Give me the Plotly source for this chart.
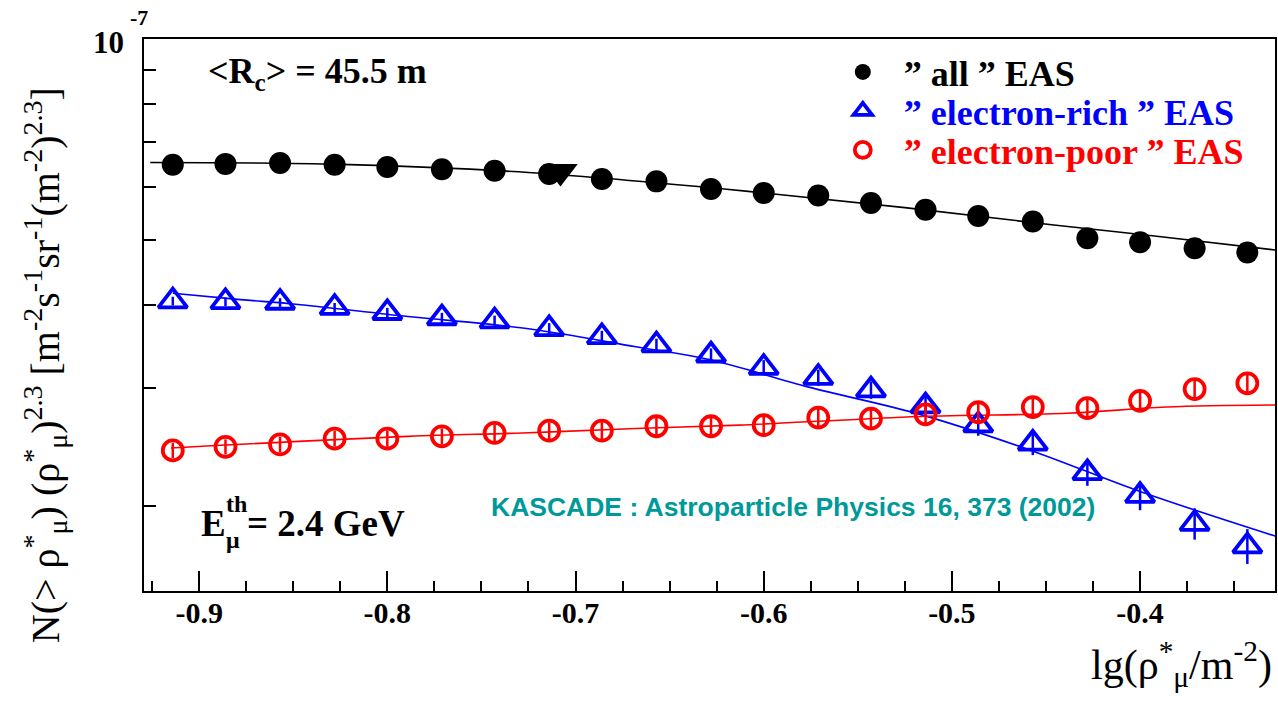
import math
import plotly.graph_objects as go

# ---------------- data (values in units of 1e-8) ----------------
SCALE = 1e-8
x_bins = [-0.914, -0.886, -0.857, -0.828, -0.800, -0.771, -0.743, -0.714, -0.686, -0.657, -0.628,
          -0.600, -0.571, -0.543, -0.514, -0.486, -0.457, -0.428, -0.400, -0.371, -0.343]
all_eas = [6.48, 6.50, 6.52, 6.48, 6.43, 6.38, 6.35, 6.28, 6.17, 6.12, 5.96,
           5.88, 5.83, 5.68, 5.55, 5.43, 5.33, 5.03, 4.96, 4.86, 4.79]
rich_eas = [4.05, 4.04, 4.03, 3.96, 3.89, 3.82, 3.78, 3.68, 3.58, 3.48, 3.36,
            3.22, 3.11, 2.98, 2.82, 2.64, 2.48, 2.24, 2.07, 1.88, 1.74]
rich_err_pct = [1.5, 1.5, 1.5, 1.6, 1.7, 1.8, 1.9, 2.0, 2.1, 2.2, 2.4,
                2.6, 2.8, 3.0, 3.3, 3.6, 4.0, 4.4, 4.9, 5.4, 6.0]
poor_eas = [2.42, 2.45, 2.47, 2.52, 2.52, 2.54, 2.57, 2.59, 2.59, 2.63, 2.63,
            2.64, 2.71, 2.70, 2.74, 2.76, 2.81, 2.80, 2.87, 2.99, 3.05]
poor_err_pct = [2.6, 2.6, 2.7, 2.7, 2.8, 2.8, 2.9, 2.9, 3.0, 3.0, 3.1,
                3.1, 3.2, 3.2, 3.3, 3.3, 3.4, 3.5, 3.6, 3.7, 3.8]

# fitted curves
fit_all_x = [-0.926, -0.825, -0.725, -0.621, -0.525, -0.447, -0.390, -0.328]
fit_all_y = [6.53, 6.49, 6.31, 5.96, 5.59, 5.27, 5.06, 4.83]
fit_rich_x = [-0.914, -0.878, -0.850, -0.789, -0.728, -0.668, -0.629, -0.576, -0.517, -0.458, -0.400, -0.328]
fit_rich_y = [4.16, 4.07, 4.01, 3.84, 3.69, 3.46, 3.31, 3.01, 2.74, 2.42, 2.10, 1.80]
fit_poor_x = [-0.915, -0.789, -0.728, -0.668, -0.613, -0.517, -0.439, -0.386, -0.328]
fit_poor_y = [2.44, 2.54, 2.57, 2.61, 2.64, 2.72, 2.75, 2.81, 2.83]

# extra marker (inverted triangle)
special_x = [-0.708]
special_y = [6.33]

x_tick_vals = [-0.9, -0.8, -0.7, -0.6, -0.5, -0.4]
x_tick_text = ["-0.9", "-0.8", "-0.7", "-0.6", "-0.5", "-0.4"]
y_tick_vals = [2, 3, 4, 5, 6, 7, 8, 9, 10]

X_RANGE = [-0.9293, -0.3283]
Y_RANGE = [1.49, 10.0]

# ---------------- figure ----------------
def sc(v):
    return [a * SCALE for a in v]

W, H = 1278, 703
ML, MR, MT, MB = 144, 1, 39, 112
PW, PH = W - ML - MR, H - MT - MB

def px(x):
    return (x - ML) / PW

def py(y):
    return (H - MB - y) / PH

SERIF = "Liberation Serif"

fig = go.Figure()

fig.add_trace(go.Scatter(x=fit_all_x, y=sc(fit_all_y), mode="lines", line=dict(color="black", width=1.6, shape="spline"),
                         showlegend=False, hoverinfo="skip"))
fig.add_trace(go.Scatter(x=fit_rich_x, y=sc(fit_rich_y), mode="lines", line=dict(color="#0000ff", width=1.6, shape="spline"),
                         showlegend=False, hoverinfo="skip"))
fig.add_trace(go.Scatter(x=fit_poor_x, y=sc(fit_poor_y), mode="lines", line=dict(color="#ff0000", width=1.6, shape="spline"),
                         showlegend=False, hoverinfo="skip"))

fig.add_trace(go.Scatter(
    x=x_bins, y=sc(all_eas), mode="markers", legend="legend",
    name='<span style="color:black">” all ” EAS</span>',
    marker=dict(symbol="circle", size=22, color="black", line=dict(width=0))))
fig.add_trace(go.Scatter(
    x=x_bins, y=sc(rich_eas), mode="markers", legend="legend2",
    name='<span style="color:#0000ff">” electron-rich ” EAS</span>',
    error_y=dict(type="data", array=[v * p / 100 * SCALE for v, p in zip(rich_eas, rich_err_pct)],
                 color="#0000ff", thickness=2.5, width=0),
    marker=dict(symbol="triangle-up-open", size=25, color="#0000ff", line=dict(width=3.8, color="#0000ff"))))
fig.add_trace(go.Scatter(
    x=x_bins, y=sc(poor_eas), mode="markers", legend="legend3",
    name='<span style="color:#ff0000">” electron-poor ” EAS</span>',
    error_y=dict(type="data", array=[v * p / 100 * SCALE for v, p in zip(poor_eas, poor_err_pct)],
                 color="#ff0000", thickness=2.5, width=0),
    marker=dict(symbol="circle-open", size=20, color="#ff0000", line=dict(width=3.8, color="#ff0000"))))
fig.add_trace(go.Scatter(
    x=special_x, y=sc(special_y), mode="markers", showlegend=False,
    marker=dict(symbol="triangle-down", size=30, color="black", line=dict(width=0))))

fig.update_xaxes(
    range=X_RANGE, tickvals=x_tick_vals, ticktext=x_tick_text,
    ticks="inside", ticklen=20, tickwidth=2, tickcolor="black",
    minor=dict(dtick=0.025, tick0=-0.9, ticks="inside", ticklen=10, tickwidth=2, tickcolor="black"),
    showline=True, linewidth=2, linecolor="black", mirror=True,
    showgrid=False, zeroline=False,
    tickfont=dict(family=SERIF, size=30, color="black", weight="bold"),
    ticklabelstandoff=-6,
)
fig.update_yaxes(
    type="log", range=[math.log10(Y_RANGE[0] * SCALE), math.log10(Y_RANGE[1] * SCALE)],
    tickvals=sc(y_tick_vals), showticklabels=False,
    ticks="inside", ticklen=12, tickwidth=2, tickcolor="black",
    showline=True, linewidth=2, linecolor="black", mirror=True,
    showgrid=False, zeroline=False,
)

ann = []
def add(text, x, y, size, xanchor="left", yanchor="middle", color="black", family=SERIF, bold=False, angle=0):
    ann.append(dict(text=text, x=px(x), y=py(y), xref="paper", yref="paper", showarrow=False,
                    xanchor=xanchor, yanchor=yanchor, textangle=angle,
                    font=dict(family=family, size=size, color=color, weight="bold" if bold else "normal")))

add("10", 126, 42, 31, xanchor="right", bold=True)
add("-7", 139, 17, 22, xanchor="center", bold=True)
add("&lt;R<sub>c</sub>&gt; = 45.5 m", 206, 74, 36, bold=True)
# E_mu^th = 2.4 GeV  (stacked super/subscript)
add("E", 199, 523, 37, bold=True)
add("th", 224, 504, 24, bold=True)
add("μ", 224, 540, 24, bold=True)
add("= 2.4 GeV", 245, 523, 37, bold=True)
add("KASCADE : Astroparticle Physics 16, 373 (2002)", 794, 507, 26.5, xanchor="center",
    color="#00999a", family="Liberation Sans", bold=True)
add("lg(ρ<sup>*</sup><sub>μ</sub>/m<sup>-2</sup>)", 1276, 664, 42, xanchor="right")
add("N(&gt; ρ<sup>*</sup><sub>μ</sub>) (ρ<sup>*</sup><sub>μ</sub>)<sup>2.3</sup> [m<sup>-2</sup>s<sup>-1</sup>sr<sup>-1</sup>(m<sup>-2</sup>)<sup>2.3</sup>]",
    45, 365, 40, xanchor="center", angle=-90)

leg_common = dict(xanchor="left", yanchor="middle", bgcolor="rgba(0,0,0,0)", borderwidth=0, itemwidth=72,
                  font=dict(family=SERIF, size=36, color="black", weight="bold"))
fig.update_layout(
    width=W, height=H,
    margin=dict(l=ML, r=MR, t=MT, b=MB),
    paper_bgcolor="white", plot_bgcolor="white",
    annotations=ann,
    showlegend=True,
    legend=dict(x=px(823), y=py(72), **leg_common),
    legend2=dict(x=px(823), y=py(111), **leg_common),
    legend3=dict(x=px(823), y=py(150), **leg_common),
)

fig.write_html("out.html")
